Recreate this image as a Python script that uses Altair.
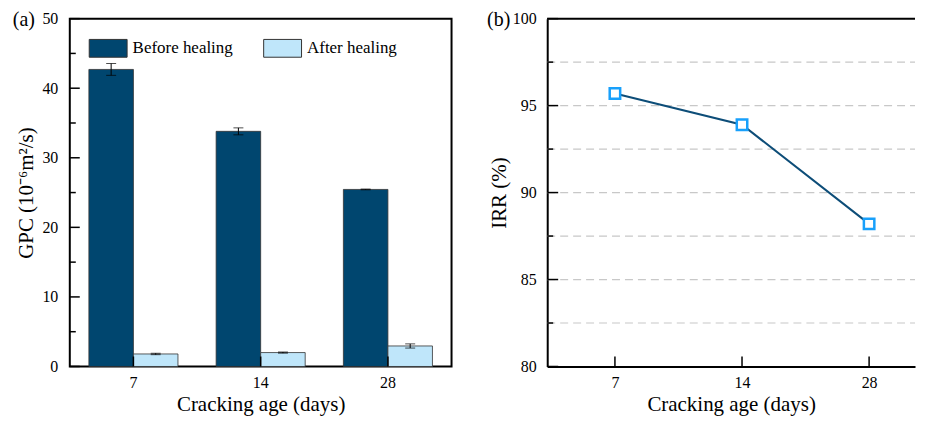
import altair as alt
import pandas as pd

# ---- data ----
ages = ["7", "14", "28"]
series = ["Before healing", "After healing"]
gpc_before = [42.7, 33.8, 25.45]
gpc_before_err = [0.85, 0.5, 0.05]
gpc_after = [1.8, 2.0, 2.95]
gpc_after_err = [0.1, 0.08, 0.3]
irr = [95.7, 93.9, 88.2]

gpc_major = [0, 10, 20, 30, 40, 50]
gpc_minor = [5, 15, 25, 35, 45]
irr_major = [80, 85, 90, 95, 100]
irr_minor = [82.5, 87.5, 92.5, 97.5]
irr_grid = [82.5, 85, 87.5, 90, 92.5, 95, 97.5]

colors = ["#00466F", "#BFE6FA"]
FONT = "Liberation Serif"

rows = []
for i, a in enumerate(ages):
    rows.append(dict(age=a, series=series[0], v=gpc_before[i],
                     lo=gpc_before[i] - gpc_before_err[i], hi=gpc_before[i] + gpc_before_err[i]))
    rows.append(dict(age=a, series=series[1], v=gpc_after[i],
                     lo=gpc_after[i] - gpc_after_err[i], hi=gpc_after[i] + gpc_after_err[i]))
bars_df = pd.DataFrame(rows)
irr_df = pd.DataFrame({"age": ages, "irr": irr})

W1, H = 383, 349
W2 = 369

# ---------------- panel (a) ----------------
xa = alt.X("age:N", sort=ages,
           scale=alt.Scale(paddingInner=0.3, paddingOuter=0.15),
           axis=alt.Axis(title="Cracking age (days)", labelAngle=0, labelPadding=8, titlePadding=3))
xoff = alt.XOffset("series:N", sort=series, scale=alt.Scale(paddingInner=0, paddingOuter=0))
ya = alt.Y("v:Q", scale=alt.Scale(domain=[0, 50], nice=False),
           axis=alt.Axis(values=gpc_major, title="GPC (10⁻⁶m²/s)", labelPadding=12, titlePadding=5))

base_a = alt.Chart(bars_df)
bars = base_a.mark_bar(stroke="#333333", strokeWidth=0.8).encode(
    x=xa, xOffset=xoff, y=ya,
    color=alt.Color("series:N", sort=series,
                    scale=alt.Scale(domain=series, range=colors),
                    legend=alt.Legend(title=None, orient="none", legendX=19, legendY=10,
                                      direction="horizontal",
                                      symbolType="M-1,-0.47L1,-0.47L1,0.47L-1,0.47Z",
                                      symbolSize=1444, symbolStrokeColor="#333333",
                                      symbolStrokeWidth=1, symbolOpacity=1,
                                      labelFont=FONT, labelFontSize=17, labelColor="black",
                                      labelOffset=5, columnPadding=28)))
err = base_a.mark_rule(color="black", strokeWidth=1).encode(
    x=xa, xOffset=xoff, y="lo:Q", y2="hi:Q")
cap_hi = base_a.mark_tick(color="black", thickness=1, size=10).encode(x=xa, xOffset=xoff, y="hi:Q")
cap_lo = base_a.mark_tick(color="black", thickness=1, size=10).encode(x=xa, xOffset=xoff, y="lo:Q")

tick_major_a = alt.Chart(pd.DataFrame({"t": gpc_major})).mark_rule(color="black", strokeWidth=1.5).encode(
    y="t:Q", x=alt.value(0), x2=alt.value(10))
tick_minor_a = alt.Chart(pd.DataFrame({"t": gpc_minor})).mark_rule(color="black", strokeWidth=1.5).encode(
    y="t:Q", x=alt.value(0), x2=alt.value(6))
xtick_a = alt.Chart(pd.DataFrame({"age": ages})).mark_rule(color="black", strokeWidth=1.5).encode(
    x=alt.X("age:N", sort=ages), y=alt.value(H - 10), y2=alt.value(H))
lab_a = alt.Chart(pd.DataFrame({"t": ["(a)"]})).mark_text(
    align="right", baseline="middle", font=FONT, fontSize=20, color="black").encode(
    text="t:N", x=alt.value(-35), y=alt.value(1))

panel_a = alt.layer(bars, err, cap_hi, cap_lo, tick_major_a, tick_minor_a, xtick_a, lab_a).properties(
    width=W1, height=H)

# ---------------- panel (b) ----------------
xb = alt.X("age:N", sort=ages, scale=alt.Scale(type="point", padding=0.447, align=0.596),
           axis=alt.Axis(title="Cracking age (days)", labelAngle=0, labelPadding=8, titlePadding=3,
                         domain=True, domainColor="black", domainWidth=2))
yb = alt.Y("irr:Q", scale=alt.Scale(domain=[80, 100], nice=False),
           axis=alt.Axis(values=irr_major, title="IRR (%)", labelPadding=11, titlePadding=3,
                         domain=True, domainColor="black", domainWidth=2))

grid_b = alt.Chart(pd.DataFrame({"g": irr_grid})).mark_rule(
    color="#c8c8c8", strokeWidth=1.2, strokeDash=[8, 5]).encode(
    y=alt.Y("g:Q", scale=alt.Scale(domain=[80, 100], nice=False)), x=alt.value(0), x2=alt.value(W2))
top_b = alt.Chart(pd.DataFrame({"b": [0]})).mark_rule(color="black", strokeWidth=2).encode(
    x=alt.value(0), x2=alt.value(W2), y=alt.value(0))
line_b = alt.Chart(irr_df).mark_line(color="#0D4D78", strokeWidth=2).encode(x=xb, y=yb)
pts_b = alt.Chart(irr_df).mark_point(shape="square", filled=True, fill="white", stroke="#18A0FB",
                                     strokeWidth=2.5, size=110, opacity=1).encode(x=xb, y=yb)
tick_major_b = alt.Chart(pd.DataFrame({"t": irr_major})).mark_rule(color="black", strokeWidth=1.5).encode(
    y="t:Q", x=alt.value(0), x2=alt.value(11))
tick_minor_b = alt.Chart(pd.DataFrame({"t": irr_minor})).mark_rule(color="black", strokeWidth=1.5).encode(
    y="t:Q", x=alt.value(0), x2=alt.value(6))
xtick_b = alt.Chart(pd.DataFrame({"age": ages})).mark_rule(color="black", strokeWidth=1.5).encode(
    x=alt.X("age:N", sort=ages), y=alt.value(H - 10), y2=alt.value(H))
lab_b = alt.Chart(pd.DataFrame({"t": ["(b)"]})).mark_text(
    align="right", baseline="middle", font=FONT, fontSize=20, color="black").encode(
    text="t:N", x=alt.value(-37), y=alt.value(1))

panel_b = alt.layer(grid_b, top_b, line_b, pts_b, tick_major_b, tick_minor_b, xtick_b, lab_b).properties(
    width=W2, height=H, view=alt.ViewBackground(stroke="transparent"))

chart = alt.hconcat(panel_a, panel_b, spacing=33).properties(
    padding={"left": 3, "top": 0, "right": 0, "bottom": 0}
).configure_view(stroke="black", strokeWidth=2).configure_axis(
    labelFont=FONT, titleFont=FONT, labelFontSize=16, titleFontSize=21,
    labelColor="black", titleColor="black", titleFontWeight="normal",
    ticks=False, domain=False, grid=False
)

chart.save("out.html", embed_options={"renderer": "svg", "actions": False})
